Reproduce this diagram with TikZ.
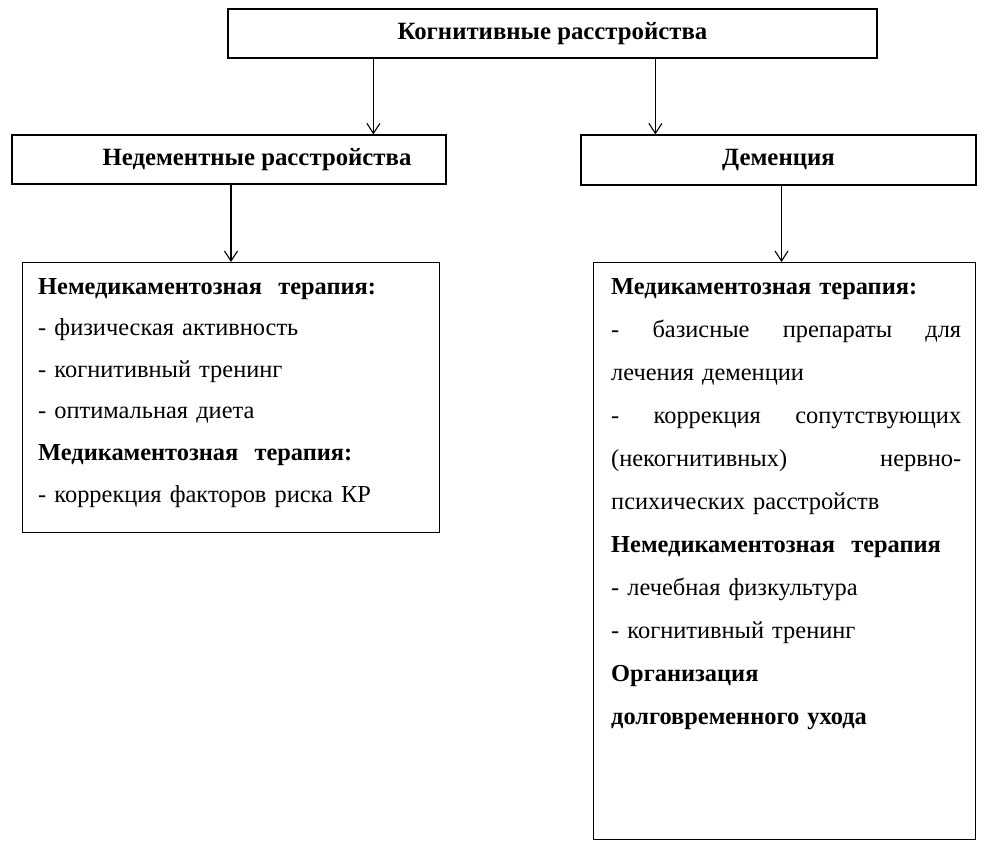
\documentclass[tikz,border=0pt]{standalone}
\usepackage{fontspec}
\setmainfont{Liberation Serif}
\usetikzlibrary{arrows.meta}
\tikzset{
  box/.style={draw, line width=1.2pt, rectangle, inner sep=0pt},
  ttl/.style={font=\fontsize{24.8}{28}\selectfont\bfseries},
  txt/.style={inner sep=0pt, align=left, font=\fontsize{24.4}{41.6}\selectfont},
  arr/.style={line width=1.1pt, -{Straight Barb[length=10pt,width=13pt,line width=1.1pt]}},
  }
\newcommand{\jline}[1]{\leavevmode\hbox to\linewidth{#1}}

\begin{document}
\begin{tikzpicture}[x=1pt,y=1pt]
  \useasboundingbox (0,0) rectangle (983,-849);

  % upper level
  \node[box,ttl,minimum width=649pt,minimum height=49pt] (kogn) at (552.5,-33.5) {Когнитивные расстройства};
  \node[box,ttl,minimum width=434pt,minimum height=49pt] (nedem) at (229,-159.5) {\hspace*{56pt}Недементные расстройства};
  \node[box,ttl,minimum width=395pt,minimum height=50pt] (dem) at (778.5,-160) {Деменция};

  % lower boxes
  \node[box,anchor=north west,minimum width=417pt,minimum height=270pt] (terl) at (22,-262) {};
  \node[box,anchor=north west,minimum width=382pt,minimum height=577pt] (terr) at (593,-262) {};

  \node[txt,anchor=north west,text width=395pt] (terltxt) at ([shift={(16pt,-16pt)}]terl.north west) {%
    \textbf{Немедикаментозная\ \ терапия:}\\
    - физическая активность\\
    - когнитивный тренинг\\
    - оптимальная диета\\
    \textbf{Медикаментозная\ \ терапия:}\\
    - коррекция факторов риска КР};

  \node[txt,anchor=north west,text width=350pt,font=\fontsize{24.4}{43}\selectfont] (terrtxt) at ([shift={(18pt,-16pt)}]terr.north west) {%
    \textbf{Медикаментозная терапия:}\\
    \jline{-\hfill базисные\hfill препараты\hfill для}\\
    лечения деменции\\
    \jline{-\hfill коррекция\hfill сопутствующих}\\
    \jline{(некогнитивных)\hfill нервно-}\\
    психических расстройств\\
    \textbf{Немедикаментозная\ \ терапия}\\
    - лечебная физкультура\\
    - когнитивный тренинг\\
    \textbf{Организация}\\
    \textbf{долговременного ухода}};

  % arrows
  \draw[arr] ([xshift=146pt]kogn.south west) -- ([xshift=146pt]kogn.south west |- nedem.north);
  \draw[arr] ([xshift=428pt]kogn.south west) -- ([xshift=428pt]kogn.south west |- dem.north);
  \draw[arr] ([xshift=2pt]nedem.south) -- ([xshift=2pt]nedem.south |- terl.north);
  \draw[arr] ([xshift=3pt]dem.south) -- ([xshift=3pt]dem.south |- terr.north);
\end{tikzpicture}
\end{document}
